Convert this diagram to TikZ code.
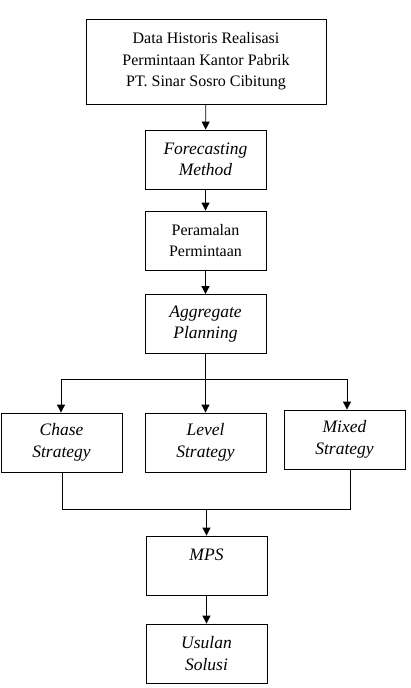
\documentclass[tikz,border=0pt]{standalone}
\usepackage{fontspec}
\setmainfont{Liberation Serif}
\usepackage{tikz}
\usetikzlibrary{positioning, arrows.meta}

\newcommand{\ittx}[1]{{\fontsize{17.5}{21.5}\selectfont\itshape #1}}

\begin{document}
\begin{tikzpicture}[x=1pt, y=1pt,
    box/.style={draw, line width=0.8pt, align=center, inner sep=0pt,
        font=\fontsize{16}{21.5}\selectfont},
    smallbox/.style={box, minimum width=121pt, minimum height=59pt},
    arr/.style={-{Triangle[length=8pt,width=8pt]}, line width=0.8pt},
    ln/.style={line width=0.8pt}]
    \useasboundingbox (0,0) rectangle (410,-688);

    \node[box, minimum width=240pt, minimum height=85pt] (Data) at (206,-61.5)
        {Data Historis Realisasi\\Permintaan Kantor Pabrik\\PT. Sinar Sosro Cibitung};
    \node[smallbox] (Fm) at (205.5,-159.5) {\ittx{Forecasting}\\\ittx{Method}};
    \node[smallbox] (Pp) at (205.5,-240.5) {Peramalan\\Permintaan};
    \node[smallbox] (Ap) at (205.5,-324) {\ittx{Aggregate}\\\ittx{Planning}};

    \node[smallbox] (Cs) at (61.5,-442.5) {\ittx{Chase}\\\ittx{Strategy}};
    \node[smallbox] (Ls) at (205.5,-442.5) {\ittx{Level}\\\ittx{Strategy}};
    \node[smallbox] (Ms) at (344.5,-439.5) {\ittx{Mixed}\\\ittx{Strategy}};

    \node[smallbox] (Mps) at (206.5,-565.5) {\ittx{MPS}\\\mbox{}};
    \node[smallbox] (Us) at (206.5,-653.5) {\ittx{Usulan}\\\ittx{Solusi}};

    % top chain
    \draw[arr] (Data) -- (Fm);
    \draw[arr] (Fm) -- (Pp);
    \draw[arr] (Pp) -- (Ap);

    % split into strategies
    \coordinate (S) at (205.5,-379);
    \coordinate (SL) at (61,-379);
    \coordinate (SR) at (347,-379);
    \draw[ln] (Ap) -- (S);
    \draw[ln] (SL) -- (SR);
    \draw[arr] (SL) -- (SL |- Cs.north);
    \draw[arr] (S) -- (Ls);
    \draw[arr] (SR) -- (SR |- Ms.north);

    % join into MPS
    \coordinate (JL) at (62,-509);
    \coordinate (JR) at (350,-509);
    \coordinate (J) at (206.5,-509);
    \draw[ln] (JL |- Cs.south) -- (JL) -- (JR) -- (JR |- Ms.south);
    \draw[arr] (J) -- (Mps);
    \draw[arr] (Mps) -- (Us);
\end{tikzpicture}
\end{document}
